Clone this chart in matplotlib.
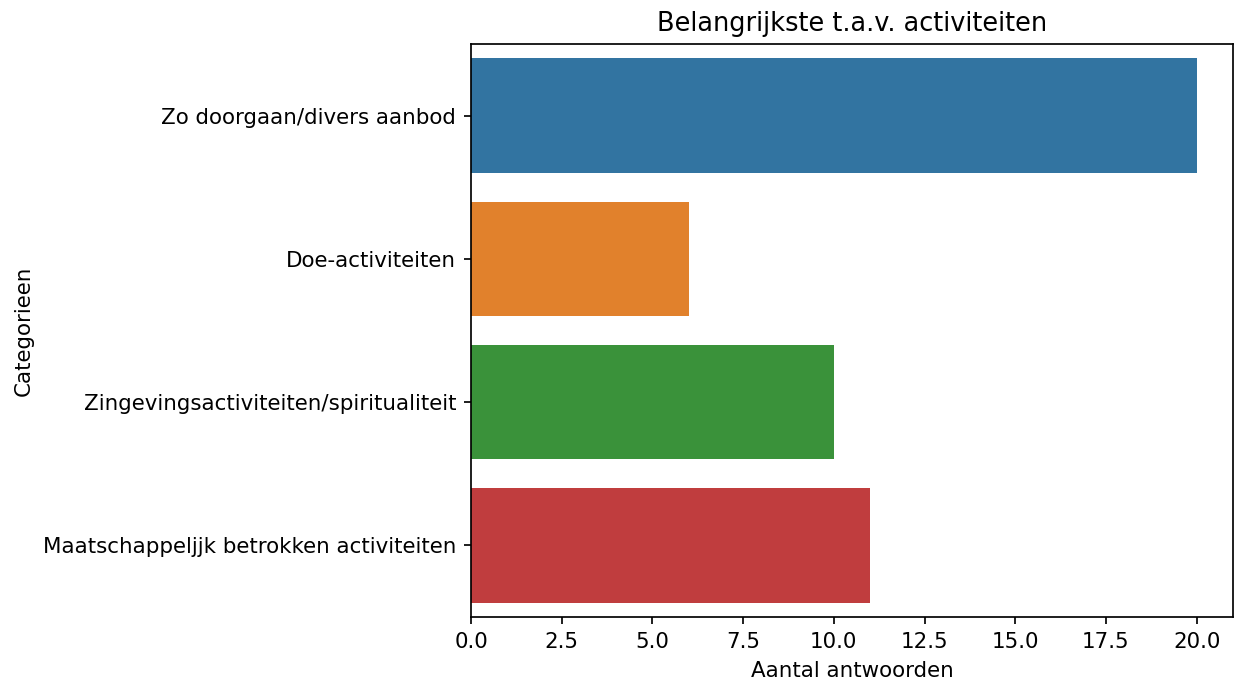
import matplotlib
matplotlib.use("Agg")
import matplotlib.pyplot as plt
import seaborn as sns

categories = ["Zo doorgaan/divers aanbod", "Doe-activiteiten",
              "Zingevingsactiviteiten/spiritualiteit",
              "Maatschappeljjk betrokken activiteiten"]
values = [20, 6, 10, 11]

DPI = 154
fig = plt.figure(figsize=(1238/DPI, 682/DPI), dpi=DPI)
ax = fig.add_axes([471/1238, 1-617/682, (1233-471)/1238, (617-44)/682])
sns.barplot(x=values, y=categories, hue=categories, palette="tab10", ax=ax, legend=False, orient="h")
ax.set_title("Belangrijkste t.a.v. activiteiten")
ax.set_xlabel("Aantal antwoorden")
ax.set_ylabel("Categorieen")
fig.savefig("out.png", dpi=DPI)
